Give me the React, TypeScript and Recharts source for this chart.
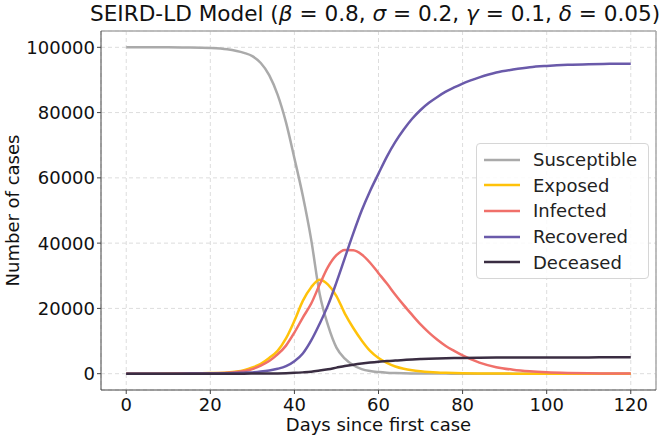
import { CartesianGrid, Legend, Line, LineChart, ReferenceLine, XAxis, YAxis } from 'recharts';

const days = [
  0, 5, 10, 15, 20, 24, 28, 30, 32, 34, 36, 38, 40, 42, 44, 46, 48, 50, 52, 54, 56, 58, 60, 62, 64, 66, 68, 70,
  72, 74, 76, 78, 80, 84, 88, 92, 96, 100, 105, 110, 115, 120,
];

const susceptible = [
  100000, 100000, 99990, 99950, 99800, 99400, 98300, 97300, 95200, 91500, 85500, 77000, 66000, 54500, 41000,
  24500, 14800, 8000, 4600, 2600, 1400, 800, 500, 300, 200, 130, 90, 60, 40, 30, 20, 15, 10, 5, 0, 0, 0, 0, 0, 0,
  0, 0,
];

const exposed = [
  0, 10, 30, 80, 200, 400, 1100, 1900, 3000, 4800, 7000, 10800, 16200, 22300, 26500, 28800, 27300, 23800, 18400,
  14000, 10200, 7000, 4800, 3300, 2200, 1500, 1050, 750, 520, 360, 260, 180, 120, 60, 30, 15, 8, 4, 2, 1, 0, 0,
];

const infected = [
  0, 5, 15, 40, 100, 250, 800, 1400, 2500, 3900, 5900, 8600, 12600, 17200, 21500, 27300, 32700, 36300, 37900,
  37800, 36500, 34000, 30800, 27600, 24200, 21000, 18000, 15100, 12600, 10400, 8500, 7000, 5600, 3400, 2000, 1200,
  720, 430, 230, 120, 60, 30,
];

const recovered = [
  0, 0, 5, 20, 50, 120, 300, 400, 650, 1000, 1500, 2300, 3800, 6200, 10200, 15300, 21000, 28000, 35500, 43000,
  50000, 56000, 61300, 66500, 71000, 74800, 78100, 80800, 83000, 84800, 86400, 87700, 88900, 90800, 92300, 93200,
  93900, 94300, 94650, 94850, 94950, 95000,
];

const deceased = [
  0, 0, 0, 1, 2, 5, 12, 20, 35, 55, 90, 150, 250, 400, 600, 950, 1350, 1850, 2350, 2750, 3100, 3400, 3650, 3850,
  4050, 4200, 4350, 4480, 4580, 4660, 4730, 4790, 4840, 4900, 4940, 4960, 4975, 4985, 4990, 4995, 5000, 5000,
];

const xTicks = [0, 20, 40, 60, 80, 100, 120];
const yTicks = [0, 20000, 40000, 60000, 80000, 100000];

const series = [
  { key: 'susceptible', label: 'Susceptible', color: '#aaaaaa' },
  { key: 'exposed', label: 'Exposed', color: '#ffc20a' },
  { key: 'infected', label: 'Infected', color: '#f0706a' },
  { key: 'recovered', label: 'Recovered', color: '#6a5aaa' },
  { key: 'deceased', label: 'Deceased', color: '#3a2d42' },
];

const data = days.map((day, i) => ({
  day,
  susceptible: susceptible[i],
  exposed: exposed[i],
  infected: infected[i],
  recovered: recovered[i],
  deceased: deceased[i],
}));

const font = '"DejaVu Sans", sans-serif';

function LegendBox() {
  return (
    <div
      style={{
        border: '1px solid #d6d6d6',
        borderRadius: 4,
        background: 'rgba(255,255,255,0.85)',
        padding: '3px 8px 3px 7px',
        fontFamily: font,
        fontSize: 18,
        color: '#222',
        width: 156,
      }}
    >
      {series.map((s) => (
        <div key={s.key} style={{ display: 'flex', alignItems: 'center', height: 25.6 }}>
          <svg width={36} height={10} style={{ marginRight: 13 }}>
            <line x1={0} y1={5} x2={36} y2={5} stroke={s.color} strokeWidth={2.5} />
          </svg>
          <span>{s.label}</span>
        </div>
      ))}
    </div>
  );
}

function YLabel() {
  return (
    <text x={19} y={210.5} transform="rotate(-90 19 210.5)" textAnchor="middle" fill="#111" fontSize={18} fontFamily={font}>
      Number of cases
    </text>
  );
}

export default function App() {
  return (
    <div style={{ position: 'absolute', left: 0, top: 0, width: 661, height: 438, background: '#fff' }}>
      <div
        style={{
          position: 'absolute',
          left: 90,
          width: 566,
          top: 1,
          textAlign: 'center',
          fontFamily: font,
          fontSize: 21.6,
          color: '#111',
          whiteSpace: 'nowrap',
        }}
      >
        SEIRD-LD Model (<i>β</i> = 0.8, <i>σ</i> = 0.2, <i>γ</i> = 0.1, <i>δ</i> = 0.05)
      </div>
      <LineChart width={661} height={438} data={data} margin={{ top: 31, right: 5, bottom: 0, left: 0 }}>
        <CartesianGrid stroke="#dddddd" strokeDasharray="4 3" />
        <XAxis
          type="number"
          dataKey="day"
          domain={[-6, 126]}
          ticks={xTicks}
          allowDataOverflow
          height={48}
          tickSize={4}
          tickMargin={4}
          stroke="#444"
          tick={{ fill: '#111', fontSize: 18, fontFamily: font }}
          label={{ value: 'Days since first case', position: 'insideBottom', offset: 7, fill: '#111', fontSize: 18, fontFamily: font }}
        />
        <YAxis
          type="number"
          domain={[-5000, 105000]}
          ticks={yTicks}
          allowDataOverflow
          width={101}
          tickSize={4}
          tickMargin={2}
          stroke="#444"
          tick={{ fill: '#111', fontSize: 18, fontFamily: font }}
          label={<YLabel />}
        />
        <ReferenceLine y={105000} stroke="#aaaaaa" strokeWidth={1.5} />
        <ReferenceLine x={126} stroke="#aaaaaa" strokeWidth={1.5} />
        {series.map((s) => (
          <Line
            key={s.key}
            type="monotone"
            dataKey={s.key}
            name={s.label}
            stroke={s.color}
            strokeWidth={2.5}
            dot={false}
            activeDot={false}
            isAnimationActive={false}
          />
        ))}
        <Legend
          layout="vertical"
          align="center"
          verticalAlign="middle"
          content={() => <LegendBox />}
          wrapperStyle={{ position: 'absolute', left: 476, top: 143, width: 'auto' }}
        />
      </LineChart>
    </div>
  );
}
